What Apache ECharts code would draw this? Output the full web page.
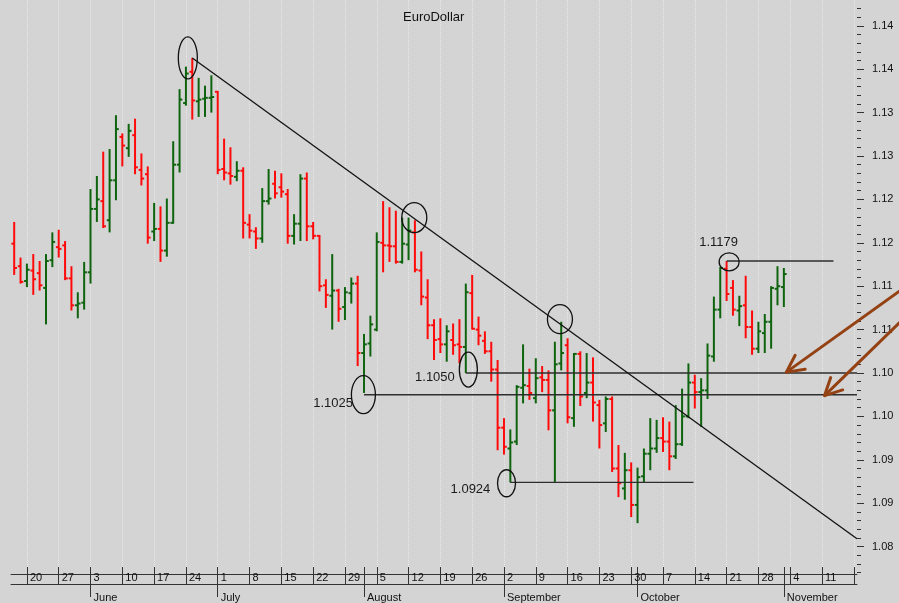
<!DOCTYPE html>
<html>
<head>
<meta charset="utf-8">
<title>EuroDollar</title>
<script src="https://cdn.jsdelivr.net/npm/echarts@6/dist/echarts.min.js"></script>
<style>
  html, body { margin: 0; padding: 0; background: #d4d4d4; }
  #chart { width: 899px; height: 603px; }
</style>
</head>
<body>
<div id="chart"></div>
<script>
// one slot per weekday, slot 0 = Thu 16 May 2019
const open = [
  1.1199, 1.1173, 1.1156, 1.1168, 1.1165, 1.1148, 1.1180, 1.1195, 1.1197, 1.1159,
  1.1128, 1.1131, 1.1166, 1.1239, 1.1248, 1.1226, 1.1272, 1.1322, 1.1309, 1.1324,
  1.1284, 1.1279, 1.1213, 1.1216, 1.1191, 1.1223, 1.1290, 1.1361, 1.1397, 1.1363,
  1.1366, 1.1367, 1.1374, 1.1285, 1.1280, 1.1276, 1.1283, 1.1221, 1.1213, 1.1205,
  1.1248, 1.1268, 1.1264, 1.1256, 1.1208, 1.1222, 1.1274, 1.1219, 1.1208, 1.1151,
  1.1139, 1.1145, 1.1126, 1.1142, 1.1153, 1.1073, 1.1084, 1.1100, 1.1200, 1.1197,
  1.1196, 1.1178, 1.1198, 1.1212, 1.1168, 1.1137, 1.1105, 1.1089, 1.1083, 1.1088,
  1.1083, 1.1080, 1.1142, 1.1100, 1.1087, 1.1075, 1.1054, 1.0987, 1.0963, 1.0971,
  1.1033, 1.1035, 1.1021, 1.1045, 1.1042, 1.1007, 1.1061, 1.1082, 1.0998, 1.1072,
  1.1027, 1.1039, 1.1013, 1.0992, 1.1020, 1.0940, 1.0917, 1.0938, 1.0898, 1.0931,
  1.0957, 1.0963, 1.0975, 1.0971, 1.0954, 1.0968, 1.1000, 1.1039, 1.1028, 1.1030,
  1.1069, 1.1123, 1.1170, 1.1148, 1.1122, 1.1128, 1.1103, 1.1078, 1.1096, 1.1109,
  1.1147, 1.1149
]
const high = [
  1.1224, 1.1183, 1.1176, 1.1187, 1.1179, 1.1187, 1.1212, 1.1215, 1.1202, 1.1173,
  1.1143, 1.1178, 1.1262, 1.1277, 1.1305, 1.1308, 1.1347, 1.1326, 1.1337, 1.1343,
  1.1303, 1.1288, 1.1246, 1.1242, 1.1251, 1.1317, 1.1377, 1.1403, 1.1413, 1.1390,
  1.1381, 1.1393, 1.1375, 1.1320, 1.1310, 1.1294, 1.1287, 1.1233, 1.1218, 1.1263,
  1.1285, 1.1283, 1.1280, 1.1262, 1.1233, 1.1279, 1.1281, 1.1224, 1.1209, 1.1158,
  1.1187, 1.1147, 1.1149, 1.1160, 1.1162, 1.1095, 1.1116, 1.1212, 1.1248, 1.1241,
  1.1237, 1.1229, 1.1229, 1.1226, 1.1190, 1.1158, 1.1112, 1.1113, 1.1105, 1.1107,
  1.1112, 1.1153, 1.1163, 1.1115, 1.1098, 1.1086, 1.1065, 1.0998, 1.0985, 1.1036,
  1.1083, 1.1055, 1.1067, 1.1058, 1.1053, 1.1086, 1.1109, 1.1090, 1.1073, 1.1075,
  1.1073, 1.1068, 1.1019, 1.1023, 1.1023, 1.0967, 1.0958, 1.0947, 1.0941, 1.0963,
  1.0998, 1.0996, 1.0999, 1.0994, 1.1013, 1.1032, 1.1061, 1.1048, 1.1044, 1.1084,
  1.1138, 1.1172, 1.1179, 1.1157, 1.1139, 1.1162, 1.1122, 1.1109, 1.1118, 1.1150,
  1.1173, 1.1171
]
const low = [
  1.1163, 1.1153, 1.1149, 1.1140, 1.1145, 1.1106, 1.1172, 1.1183, 1.1157, 1.1122,
  1.1113, 1.1123, 1.1153, 1.1224, 1.1217, 1.1212, 1.1249, 1.1288, 1.1299, 1.1279,
  1.1266, 1.1199, 1.1202, 1.1178, 1.1184, 1.1222, 1.1281, 1.1358, 1.1342, 1.1345,
  1.1345, 1.1350, 1.1279, 1.1272, 1.1267, 1.1271, 1.1205, 1.1205, 1.1193, 1.1200,
  1.1244, 1.1251, 1.1252, 1.1199, 1.1198, 1.1202, 1.1202, 1.1204, 1.1144, 1.1125,
  1.1100, 1.1109, 1.1111, 1.1130, 1.1058, 1.1027, 1.1069, 1.1098, 1.1166, 1.1178,
  1.1176, 1.1176, 1.1180, 1.1166, 1.1128, 1.1089, 1.1065, 1.1073, 1.1063, 1.1071,
  1.1061, 1.1050, 1.1100, 1.1082, 1.1072, 1.1040, 1.0961, 1.0956, 1.0924, 1.0967,
  1.1015, 1.1019, 1.1015, 1.1028, 1.0984, 1.0924, 1.1053, 1.0992, 1.0988, 1.1012,
  1.1021, 1.0994, 1.0963, 1.0982, 1.0936, 1.0907, 1.0904, 1.0884, 1.0877, 1.0924,
  1.0938, 1.0958, 1.0959, 1.0938, 1.0951, 1.0966, 1.0998, 1.1009, 1.0988, 1.1020,
  1.1063, 1.1113, 1.1133, 1.1116, 1.1104, 1.1090, 1.1071, 1.1073, 1.1073, 1.1078,
  1.1128, 1.1126
]
const close = [
  1.1171, 1.1155, 1.1169, 1.1158, 1.1151, 1.1179, 1.1201, 1.1193, 1.1159, 1.1128,
  1.1130, 1.1166, 1.1239, 1.1250, 1.1219, 1.1272, 1.1331, 1.1312, 1.1329, 1.1287,
  1.1274, 1.1206, 1.1216, 1.1191, 1.1223, 1.1290, 1.1365, 1.1395, 1.1364, 1.1365,
  1.1367, 1.1368, 1.1284, 1.1281, 1.1277, 1.1283, 1.1223, 1.1214, 1.1205, 1.1248,
  1.1251, 1.1257, 1.1259, 1.1208, 1.1222, 1.1274, 1.1219, 1.1208, 1.1150, 1.1140,
  1.1145, 1.1124, 1.1143, 1.1153, 1.1073, 1.1083, 1.1106, 1.1201, 1.1197, 1.1196,
  1.1178, 1.1199, 1.1214, 1.1169, 1.1138, 1.1105, 1.1088, 1.1083, 1.1098, 1.1082,
  1.1080, 1.1143, 1.1101, 1.1093, 1.1075, 1.1054, 1.0987, 1.0965, 1.0970, 1.1034,
  1.1036, 1.1027, 1.1044, 1.1042, 1.1007, 1.1060, 1.1073, 1.0999, 1.1072, 1.1023,
  1.1039, 1.1016, 1.0990, 1.1020, 1.0940, 1.0923, 1.0938, 1.0898, 1.0930, 1.0957,
  1.0963, 1.0975, 1.0971, 1.0954, 1.0968, 1.1000, 1.1039, 1.1028, 1.1030, 1.1070,
  1.1123, 1.1171, 1.1141, 1.1123, 1.1127, 1.1103, 1.1078, 1.1098, 1.1109, 1.1148,
  1.1150, 1.1164
]

// axis: slots -0.5 .. 132.5 (last slot = Mon 18 Nov)
const slotMin = -0.5
const slotMax = 132.5
// Monday slots and their day numbers (first Monday, 20 May, is slot 2)
const mondaySlots = [2, 7, 12, 17, 22, 27, 32, 37, 42, 47, 52, 57, 62, 67, 72, 77, 82, 87, 92, 97, 102, 107, 112, 117, 122, 127, 132]
const mondayLabels = ['20', '27', '3', '10', '17', '24', '1', '8', '15', '22', '29', '5', '12', '19', '26', '2', '9', '16', '23', '30', '7', '14', '21', '28', '4', '11', '18']
const monthSlots = [12, 32, 55, 77, 98, 121]
const monthNames = ['June', 'July', 'August', 'September', 'October', 'November']

const priceTicks = [1.085, 1.09, 1.095, 1.1, 1.105, 1.11, 1.115, 1.12, 1.125, 1.13, 1.135, 1.14, 1.145]
const priceLabels = ['1.08', '1.09', '1.09', '1.10', '1.10', '1.11', '1.11', '1.12', '1.12', '1.13', '1.13', '1.14', '1.14']

// drawn-on studies
const trendLine = [[28, 1.1413], [132.5, 1.0859]]
const levelNames = ['1.1179', '1.1050', '1.1025', '1.0924']
const levelValues = [1.1179, 1.1050, 1.1025, 1.0924]
const levelFrom = [112, 71, 55, 78]
const levelTo = [128.8, 132.5, 132.5, 106.8]
const ringSlots = [27.3, 62.9, 85.8, 112.4, 71.4, 54.9, 77.4]
const ringValues = [1.1413, 1.1229, 1.1112, 1.1178, 1.1054, 1.1025, 1.0923]
const arrowSlots = [121.4, 127.4]
const arrowValues = [1.1051, 1.1024]

// styles
const FONT = 'Liberation Sans, Arial, sans-serif'
const ringSize = [[9.5, 21], [12.5, 15], [12.5, 14.5], [10, 9], [9, 17.5], [12, 19], [9, 13.5]]
const levelLabelPos = [[-8, -19, 'center'], [-11, 4, 'right'], [-11, 9, 'right'], [-20, 7.5, 'right']]
const arrowTail = [[113, -81], [75, -73]]

const chart = echarts.init(document.getElementById('chart'))

const minorTicks = []
for (let k = 1082; k <= 1147; k++) minorTicks.push(k / 1000)

const dayTicks = mondaySlots.concat(monthSlots.filter(s => mondaySlots.indexOf(s) < 0))
const labelSlots = mondaySlots.slice(0, -1)

function renderBar(params, api) {
  const s = api.value(0)
  const pH = api.coord([s, api.value(2)])
  const pL = api.coord([s, api.value(3)])
  const yO = api.coord([s, api.value(1)])[1]
  const yC = api.coord([s, api.value(4)])[1]
  const color = api.value(4) >= api.value(1) ? '#0e640e' : '#ff0a0a'
  const st = { stroke: color, lineWidth: 2 }
  return {
    type: 'group',
    children: [
      { type: 'line', shape: { x1: pH[0], y1: pH[1], x2: pL[0], y2: pL[1] }, style: st },
      { type: 'line', shape: { x1: pH[0] - 2.8, y1: yO, x2: pH[0], y2: yO }, style: st },
      { type: 'line', shape: { x1: pH[0], y1: yC, x2: pH[0] + 2.8, y2: yC }, style: st }
    ]
  }
}

function renderLevel(params, api) {
  const k = params.dataIndex
  const a = api.coord([api.value(0), api.value(2)])
  const b = api.coord([api.value(1), api.value(2)])
  const lp = levelLabelPos[k]
  return {
    type: 'group',
    children: [
      { type: 'line', shape: { x1: a[0], y1: a[1], x2: b[0], y2: b[1] }, style: { stroke: '#2e2e2e', lineWidth: 1.4 } },
      {
        type: 'text',
        x: a[0] + lp[0], y: a[1] + lp[1],
        style: { text: levelNames[k], fill: '#1a1a1a', font: '13px ' + FONT, textAlign: lp[2], textVerticalAlign: 'middle' }
      }
    ]
  }
}

function renderRing(params, api) {
  const c = api.coord([api.value(0), api.value(1)])
  const r = ringSize[params.dataIndex]
  return {
    type: 'ellipse',
    shape: { cx: c[0], cy: c[1], rx: r[0], ry: r[1] },
    style: { fill: 'none', stroke: '#111', lineWidth: 1.3 }
  }
}

function renderArrow(params, api) {
  const tip = api.coord([api.value(0), api.value(1)])
  const t = arrowTail[params.dataIndex]
  const ang = Math.atan2(t[1], t[0])
  const len = 19, spread = 0.47
  const h1 = [tip[0] + len * Math.cos(ang - spread), tip[1] + len * Math.sin(ang - spread)]
  const h2 = [tip[0] + len * Math.cos(ang + spread), tip[1] + len * Math.sin(ang + spread)]
  const st = { stroke: '#944214', lineWidth: 3, fill: 'none', lineCap: 'round', lineJoin: 'round' }
  return {
    type: 'group',
    children: [
      { type: 'line', shape: { x1: tip[0], y1: tip[1], x2: tip[0] + t[0], y2: tip[1] + t[1] }, style: st },
      { type: 'polyline', shape: { points: [h1, tip, h2] }, style: st }
    ]
  }
}

const slotAxis = { type: 'value', min: slotMin, max: slotMax }
const noZero = { onZero: false }

chart.setOption({
  animation: false,
  backgroundColor: '#d4d4d4',
  textStyle: { fontFamily: FONT },
  title: {
    text: 'EuroDollar', left: 403, top: 11, padding: 0,
    textStyle: { fontSize: 13, fontWeight: 'normal', color: '#111', fontFamily: FONT }
  },
  grid: [
    { left: 11, right: 42, top: 0, bottom: 29 },
    { left: 11, right: 42, top: 574, height: 17 }
  ],
  xAxis: [
    Object.assign({}, slotAxis, {
      gridIndex: 0,
      axisLine: { show: false, onZero: false },
      axisTick: { show: false, customValues: mondaySlots },
      axisLabel: { show: false },
      splitLine: { show: true, lineStyle: { color: '#e9e9e9', type: 'dotted', width: 1 } }
    }),
    Object.assign({}, slotAxis, {
      gridIndex: 1, position: 'bottom',
      axisLine: { show: true, onZero: false, lineStyle: { color: '#333', width: 1 } },
      axisTick: { show: true, inside: true, length: 17, customValues: dayTicks, lineStyle: { color: '#333', width: 1 } },
      axisLabel: {
        show: true, inside: true, customValues: labelSlots, margin: 1,
        align: 'left', padding: [0, 0, 0, 3], fontSize: 11, color: '#111', fontFamily: FONT,
        formatter: v => mondayLabels[mondaySlots.indexOf(Math.round(v))]
      },
      splitLine: { show: false }
    }),
    Object.assign({}, slotAxis, {
      gridIndex: 1, position: 'top',
      axisLine: { show: true, onZero: false, lineStyle: { color: '#333', width: 1 } },
      axisTick: { show: false }, axisLabel: { show: false }, splitLine: { show: false }
    }),
    Object.assign({}, slotAxis, {
      gridIndex: 1, position: 'bottom',
      axisLine: { show: false, onZero: false },
      axisTick: { show: true, inside: false, length: 13, customValues: monthSlots, lineStyle: { color: '#333', width: 1 } },
      axisLabel: {
        show: true, customValues: monthSlots, margin: 8,
        align: 'left', padding: [0, 0, 0, 3], fontSize: 11, color: '#111', fontFamily: FONT,
        formatter: v => monthNames[monthSlots.indexOf(Math.round(v))]
      },
      splitLine: { show: false }
    })
  ],
  yAxis: [
    {
      type: 'value', gridIndex: 0, position: 'right', min: 1.081843, max: 1.147972,
      axisLine: { show: false, onZero: false },
      axisTick: { show: true, length: 7, customValues: priceTicks, lineStyle: { color: '#333' } },
      axisLabel: {
        show: true, customValues: priceTicks, margin: 15, fontSize: 11, color: '#111', fontFamily: FONT,
        formatter: v => priceLabels[priceTicks.findIndex(p => Math.abs(p - v) < 1e-6)]
      },
      splitLine: { show: false }
    },
    {
      type: 'value', gridIndex: 0, position: 'right', min: 1.081843, max: 1.147972,
      axisLine: { show: false, onZero: false },
      axisTick: { show: true, length: 4, customValues: minorTicks, lineStyle: { color: '#333' } },
      axisLabel: { show: false }, splitLine: { show: false }
    },
    { type: 'value', gridIndex: 1, show: false, min: 0, max: 1, axisLine: noZero }
  ],
  series: [
    {
      type: 'custom', name: 'EUR/USD', xAxisIndex: 0, yAxisIndex: 0,
      renderItem: renderBar,
      encode: { x: 0, y: [1, 2, 3, 4] },
      data: open.map((o, i) => [i, o, high[i], low[i], close[i]])
    },
    {
      type: 'line', xAxisIndex: 0, yAxisIndex: 0, data: trendLine,
      showSymbol: false, symbol: 'none', silent: true,
      lineStyle: { color: '#111', width: 1.3 }
    },
    {
      type: 'custom', xAxisIndex: 0, yAxisIndex: 0, silent: true,
      renderItem: renderLevel,
      encode: { x: [0, 1], y: 2 },
      data: levelValues.map((v, k) => [levelFrom[k], levelTo[k], v])
    },
    {
      type: 'custom', xAxisIndex: 0, yAxisIndex: 0, silent: true,
      renderItem: renderRing,
      encode: { x: 0, y: 1 },
      data: ringSlots.map((s, k) => [s, ringValues[k]])
    },
    {
      type: 'custom', xAxisIndex: 0, yAxisIndex: 0, silent: true, clip: false,
      renderItem: renderArrow,
      encode: { x: 0, y: 1 },
      data: arrowSlots.map((s, k) => [s, arrowValues[k]])
    }
  ]
})
</script>
</body>
</html>
